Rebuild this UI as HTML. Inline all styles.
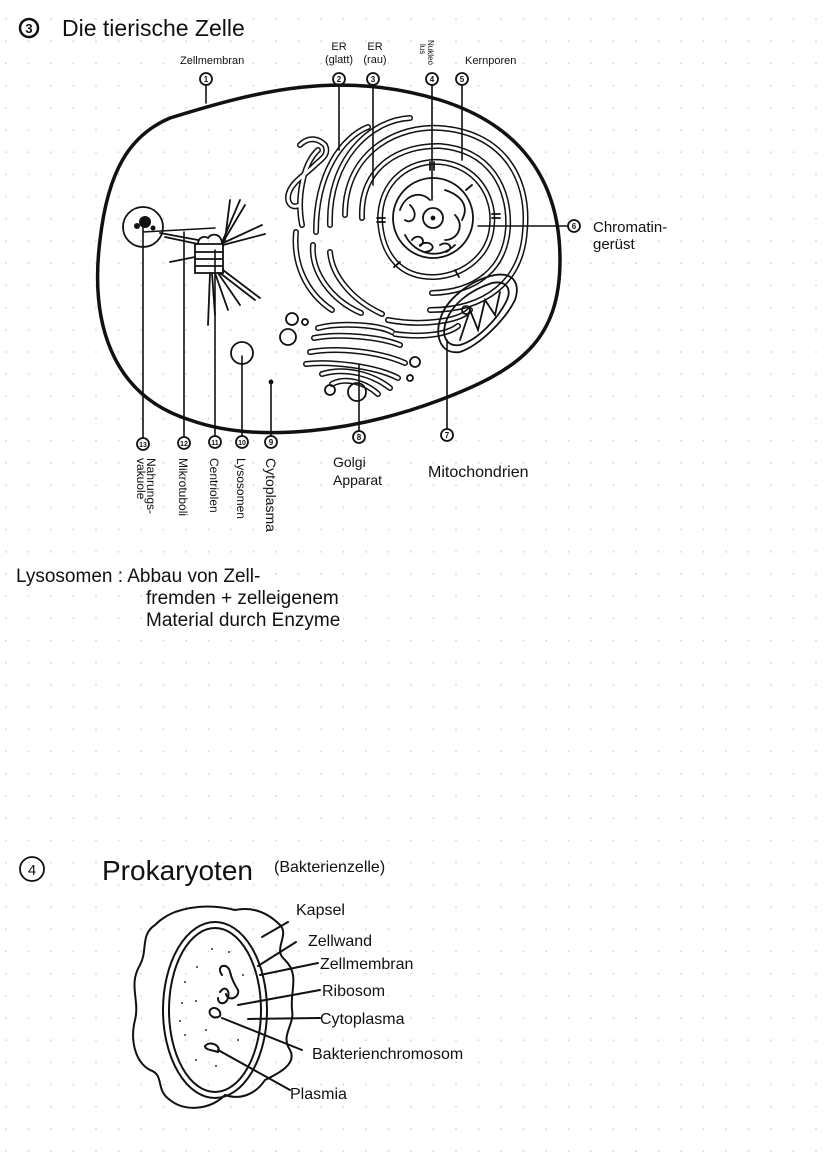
<!DOCTYPE html>
<html><head><meta charset="utf-8"><style>
html,body{margin:0;padding:0;background:#fff;}
svg{display:block}
text{font-family:"Liberation Sans",sans-serif;fill:#111}
</style></head><body>
<svg width="828" height="1169" viewBox="0 0 828 1169" xmlns="http://www.w3.org/2000/svg" xmlns:xlink="http://www.w3.org/1999/xlink">
<defs>
<pattern id="g" x="5" y="18" width="22.5" height="22.2" patternUnits="userSpaceOnUse">
<circle cx="1" cy="1" r="0.9" fill="#d0d0d0"/></pattern>
<g id="tubes">
<path d="M380 220 C380 180 410 160 440 162 C475 165 495 195 492 225 C490 255 465 275 435 277 C400 278 382 255 380 220"/>
<path d="M362 218 C360 165 402 145 440 146 C490 150 510 188 508 228 C505 270 475 292 432 293"/>
<path d="M345 215 C345 150 400 125 440 128 C500 132 530 175 525 230 C522 282 485 310 430 310"/>
<path d="M330 225 C328 160 370 120 410 118 M316 232 C316 172 343 137 368 127 M302 225 C297 200 302 165 318 150 M296 232 C293 262 305 292 332 310 M313 245 C311 272 331 300 361 313 M330 252 C332 276 352 300 382 314 M388 320 C420 326 458 322 470 310 M395 334 C425 338 448 334 458 326"/>
<path d="M318 328 C340 322 380 325 392 332 M314 338 C340 333 380 337 400 345 M310 352 C340 347 380 352 405 363 M306 364 C330 361 375 366 398 378 M322 374 C345 367 372 374 390 388 M332 384 C345 377 365 382 378 394"/>
<path d="M300 145 C310 135 320 140 325 145 C330 155 320 160 315 165 C305 175 295 180 290 190 C285 200 290 210 300 205"/>
</g>
</defs>
<rect width="828" height="1169" fill="url(#g)"/>

<!-- Title -->
<circle cx="29" cy="28" r="9" fill="none" stroke="#111" stroke-width="2.5"/>
<text x="29" y="33" font-size="13" font-weight="bold" text-anchor="middle">3</text>
<text x="62" y="36" font-size="23">Die tierische Zelle</text>

<g fill="none" stroke="#111" stroke-width="6" stroke-linecap="round"><use xlink:href="#tubes"/></g>
<g fill="none" stroke="#fff" stroke-width="3" stroke-linecap="round"><use xlink:href="#tubes"/></g>

<g fill="none" stroke="#111" stroke-width="1.8" stroke-linecap="round">
<!-- cell membrane -->
<path d="M170 118 C260 90 340 70 440 100 C520 125 560 180 560 260 C560 340 520 370 440 400 C360 430 260 445 190 420 C110 395 90 320 100 240 C108 170 130 135 170 118 Z" stroke-width="3.5"/>

<!-- label lines -->
<path d="M206 86 V103 M339 86 V150 M373 86 V185 M432 86 V200 M462 86 V160 M567 226 H478 M447 428 V340 M359 430 V365 M271 435 V380 M242 435 V356 M215 435 V250 M184 436 V232 M143 437 V222 M143 232 L215 228" stroke-width="1.6"/>

<!-- vacuole -->
<circle cx="143" cy="227" r="20"/>
<!-- centrioles -->
<path d="M195 244 H223 V273 H195 Z M195 252 H223 M195 259 H223 M195 266 H223"/>
<path d="M198 244 C198 236 206 236 208 238 C212 232 222 234 222 244"/>
<path d="M160 233 L198 240 M165 237 L198 244 M170 262 L195 257 M223 240 L240 200 M223 242 L245 205 M223 243 L262 225 M223 245 L265 234 M220 273 L255 300 M218 273 L240 305 M215 273 L228 310 M212 273 L215 315 M210 273 L208 325 M223 270 L260 298 M230 200 L225 240"/>
<circle cx="242" cy="353" r="11"/>
<circle cx="271" cy="382" r="1.5" fill="#111"/>

<!-- nucleus -->
<circle cx="433" cy="218" r="40"/>
<circle cx="433" cy="218" r="10"/>
<circle cx="433" cy="218" r="1.5" fill="#111"/>
<path d="M400 210 C405 195 420 190 430 200 M445 190 C460 195 470 205 462 220 M405 235 C415 255 440 260 455 245 M410 205 C420 215 412 225 405 220 M455 215 C465 225 458 240 445 240 M420 245 C430 238 440 250 425 252 M412 240 C418 232 428 240 420 246 M440 245 C448 240 455 248 446 252"/>
<!-- pores -->
<path d="M385 218 h-8 M385 222 h-8 M430 170 v-8 M434 170 v-8 M466 190 l6 -5 M492 214 h8 M492 218 h8 M400 262 l-6 5 M455 270 l4 7"/>
<!-- mito -->
<path d="M440 320 C445 300 470 280 495 275 C515 272 520 285 515 300 C505 320 480 345 460 352 C440 355 435 335 440 320 Z"/>
<path d="M445 325 C450 305 470 290 492 283 C508 280 512 290 506 302 C498 318 478 340 460 345 C447 347 442 337 445 325 Z"/>
<path d="M460 340 L470 310 L478 330 L485 300 L495 315 L500 292"/>
<circle cx="466" cy="310" r="4"/>
<circle cx="292" cy="319" r="6"/><circle cx="288" cy="337" r="8"/><circle cx="305" cy="322" r="3"/>
<circle cx="357" cy="392" r="9"/><circle cx="330" cy="390" r="5"/><circle cx="415" cy="362" r="5"/><circle cx="410" cy="378" r="3"/>

<g stroke-width="1.8">
<circle cx="206" cy="79" r="6"/><circle cx="339" cy="79" r="6"/><circle cx="373" cy="79" r="6"/><circle cx="432" cy="79" r="6"/><circle cx="462" cy="79" r="6"/><circle cx="574" cy="226" r="6"/><circle cx="447" cy="435" r="6"/><circle cx="359" cy="437" r="6"/><circle cx="271" cy="442" r="6"/><circle cx="242" cy="442" r="6"/><circle cx="215" cy="442" r="6"/><circle cx="184" cy="443" r="6"/><circle cx="143" cy="444" r="6"/>
</g>
</g>
<circle cx="145" cy="222" r="6" fill="#111"/><circle cx="137" cy="226" r="3" fill="#111"/><circle cx="153" cy="228" r="2.5" fill="#111"/>

<g font-size="8" font-weight="bold" text-anchor="middle">
<text x="206" y="82">1</text><text x="339" y="82">2</text><text x="373" y="82">3</text><text x="432" y="82">4</text><text x="462" y="82">5</text><text x="574" y="229">6</text><text x="447" y="438">7</text><text x="359" y="440">8</text><text x="271" y="445">9</text><text x="242" y="445" font-size="7">10</text><text x="215" y="445" font-size="7">11</text><text x="184" y="446" font-size="7">12</text><text x="143" y="447" font-size="7">13</text>
</g>
<g font-size="11">
<text x="180" y="64">Zellmembran</text>
<text x="339" y="50" text-anchor="middle">ER</text><text x="339" y="63" text-anchor="middle">(glatt)</text>
<text x="375" y="50" text-anchor="middle">ER</text><text x="375" y="63" text-anchor="middle">(rau)</text>
<text x="465" y="64">Kernporen</text>
<text font-size="8" transform="translate(428,40) rotate(90)">Nukleo</text>
<text font-size="8" transform="translate(420,44) rotate(90)">lus</text>
</g>
<text x="593" y="232" font-size="15">Chromatin-</text>
<text x="593" y="249" font-size="15">gerüst</text>
<text x="333" y="467" font-size="14">Golgi</text>
<text x="333" y="485" font-size="14">Apparat</text>
<text x="428" y="477" font-size="16">Mitochondrien</text>
<g font-size="12">
<text transform="translate(147,458) rotate(90)">Nahrungs-</text>
<text transform="translate(137,458) rotate(90)">vakuole</text>
<text transform="translate(179,458) rotate(90)">Mikrotuboli</text>
<text transform="translate(210,458) rotate(90)">Centriolen</text>
<text transform="translate(237,458) rotate(90)">Lysosomen</text>
<text font-size="14" transform="translate(266,458) rotate(90)">Cytoplasma</text>
</g>

<g font-size="19">
<text x="16" y="582">Lysosomen : Abbau von Zell-</text>
<text x="146" y="604">fremden + zelleigenem</text>
<text x="146" y="626">Material durch Enzyme</text>
</g>

<!-- Prokaryote -->
<circle cx="32" cy="869" r="12" fill="none" stroke="#111" stroke-width="1.8"/>
<text x="32" y="875" font-size="15" text-anchor="middle">4</text>
<text x="102" y="880" font-size="28">Prokaryoten</text>
<text x="274" y="872" font-size="16">(Bakterienzelle)</text>

<g fill="none" stroke="#111" stroke-width="2" stroke-linecap="round">
<path d="M175 912 C195 905 215 905 235 910 C255 906 270 915 280 925 C290 935 272 950 285 960 C300 975 290 990 292 1010 C295 1025 280 1035 290 1050 C298 1065 275 1075 265 1080 C255 1095 240 1100 225 1095 C210 1110 185 1112 170 1100 C155 1090 165 1075 150 1070 C135 1062 130 1040 135 1020 C140 1000 128 985 140 965 C148 950 140 935 155 925 C162 918 168 915 175 912 Z"/>
<ellipse cx="215" cy="1010" rx="52" ry="88"/>
<ellipse cx="215" cy="1010" rx="46" ry="82"/>
<path d="M288 922 L262 937 M296 942 L258 966 M318 963 L260 975 M320 990 L238 1005 M320 1018 L248 1019 M302 1050 L222 1018 M290 1090 L218 1050"/>
<path d="M222 975 C215 965 228 962 230 972 C232 980 235 985 238 990 C240 998 228 1002 226 994 M220 992 C225 985 230 990 228 998 C226 1005 218 1005 218 998 M210 1010 C214 1005 222 1010 220 1016 C214 1020 208 1015 210 1010"/>
<path d="M205 1046 C210 1040 222 1046 218 1052 C212 1050 205 1050 205 1046"/>
</g>
<g fill="#333"><circle cx="212" cy="949" r="1"/><circle cx="229" cy="952" r="1"/><circle cx="197" cy="967" r="1"/><circle cx="185" cy="982" r="1"/><circle cx="182" cy="1003" r="1"/><circle cx="180" cy="1021" r="1"/><circle cx="185" cy="1035" r="1"/><circle cx="206" cy="1030" r="1"/><circle cx="238" cy="1040" r="1"/><circle cx="196" cy="1060" r="1"/><circle cx="216" cy="1066" r="1"/><circle cx="243" cy="975" r="1"/><circle cx="196" cy="1001" r="1"/></g>
<g font-size="16">
<text x="296" y="915">Kapsel</text>
<text x="308" y="946">Zellwand</text>
<text x="320" y="969">Zellmembran</text>
<text x="322" y="996">Ribosom</text>
<text x="320" y="1024">Cytoplasma</text>
<text x="312" y="1059">Bakterienchromosom</text>
<text x="290" y="1099">Plasmia</text>
</g>
</svg>
</body></html>
